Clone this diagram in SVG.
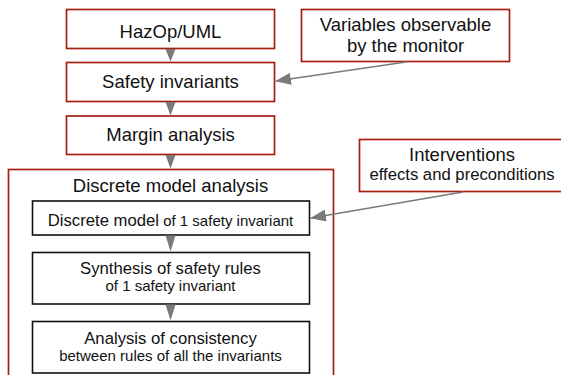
<svg xmlns="http://www.w3.org/2000/svg" width="561" height="375" viewBox="0 0 561 375">
<defs>
<style>
.red{fill:#fff;stroke:#a51e10;stroke-width:1.7}
.blk{fill:#fff;stroke:#111;stroke-width:1.6}
text{font-family:"Liberation Sans",Arial,sans-serif;fill:#111;text-anchor:middle}
.m{font-size:18.5px}
.s{font-size:16.7px}
.t{font-size:15px}
.con{stroke:#7a7a7a;stroke-width:1.6;fill:none}
.tri{fill:#7a7a7a}
</style>
<marker id="ah" markerWidth="16" markerHeight="12" refX="15" refY="6" orient="auto" markerUnits="userSpaceOnUse">
<path d="M0,0 L16,6 L0,12 Z" fill="#7a7a7a"/>
</marker>
</defs>
<rect width="561" height="375" fill="#fff"/>
<g id="discrete-model-analysis">
<rect class="red" x="8.5" y="169.5" width="325" height="220"/>
<text class="m" x="170.5" y="192">Discrete model analysis</text>
</g>
<g id="hazop">
<rect class="red" x="66.5" y="9.5" width="208" height="39"/>
<text class="m" x="170.5" y="37.5">HazOp/UML</text>
</g>
<g id="safety-invariants">
<rect class="red" x="66.5" y="62.5" width="208" height="39"/>
<text class="m" x="170.5" y="88">Safety invariants</text>
</g>
<g id="margin-analysis">
<rect class="red" x="66.5" y="116" width="208" height="38.5"/>
<text class="m" x="170.5" y="141">Margin analysis</text>
</g>
<g id="variables">
<rect class="red" x="301.5" y="9.5" width="208" height="52"/>
<text class="m" x="405.5" y="30.5">Variables observable</text>
<text class="m" x="405.5" y="51.5">by the monitor</text>
</g>
<g id="interventions">
<rect class="red" x="359.5" y="139.5" width="203" height="52"/>
<text class="m" x="462" y="161">Interventions</text>
<text class="s" x="462" y="179.5">effects and preconditions</text>
</g>
<g id="discrete-model">
<rect class="blk" x="32.5" y="201" width="277" height="34"/>
<text x="170.5" y="226"><tspan class="s">Discrete model</tspan><tspan class="t"> of 1 safety invariant</tspan></text>
</g>
<g id="synthesis">
<rect class="blk" x="32.5" y="252.5" width="277" height="51.5"/>
<text class="s" x="170.5" y="273.5">Synthesis of safety rules</text>
<text class="t" x="170.5" y="291">of 1 safety invariant</text>
</g>
<g id="consistency">
<rect class="blk" x="32.5" y="321.5" width="277" height="51.5"/>
<text class="s" x="170.5" y="344">Analysis of consistency</text>
<text class="t" x="170.5" y="361">between rules of all the invariants</text>
</g>
<g id="connectors">
<polygon class="tri" points="165.5,49 175.5,49 170.5,61.5"/>
<polygon class="tri" points="165.5,102 175.5,102 170.5,115.5"/>
<polygon class="tri" points="165.5,155 175.5,155 170.5,168.5"/>
<polygon class="tri" points="165.5,235.5 175.5,235.5 170.5,251.5"/>
<polygon class="tri" points="165.5,304.5 175.5,304.5 170.5,320.5"/>
<line class="con" x1="406" y1="62" x2="276" y2="81" marker-end="url(#ah)"/>
<line class="con" x1="463" y1="192" x2="311" y2="218" marker-end="url(#ah)"/>
</g>
</svg>
